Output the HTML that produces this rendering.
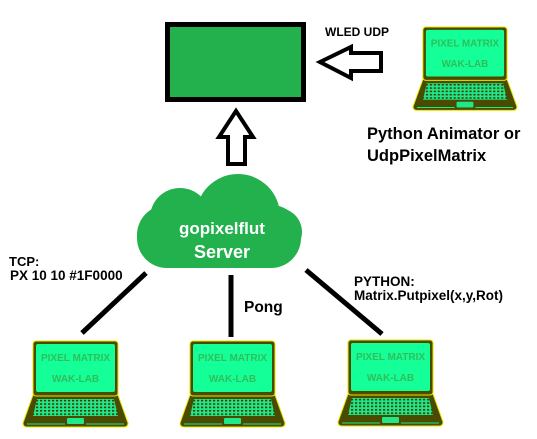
<!DOCTYPE html>
<html><head><style>
body{margin:0;background:#fff;}
svg text{font-family:"Liberation Sans",sans-serif;font-weight:bold;}
</style></head><body>
<svg width="537" height="434" viewBox="0 0 537 434" xmlns="http://www.w3.org/2000/svg">
<defs>
<pattern id="kb" width="4" height="3.4" patternUnits="userSpaceOnUse">
<rect width="4" height="3.4" fill="#1ee88a"/>
<rect x="1" y="1" width="2.2" height="1.6" fill="#3c3c00"/>
</pattern>
<g id="lap">
<path d="M10 54 L95 54 L105 82 Q105 86 101 86 L4 86 Q0 86 0 82 Z" fill="#4a4a00" stroke="#e6e600" stroke-width="1"/>
<rect x="10" y="0" width="85" height="55" rx="3" fill="#4a4a00" stroke="#e6e600" stroke-width="1"/>
<rect x="13" y="3" width="79" height="48" rx="2" fill="#14ff98"/>
<text x="52.5" y="20" font-size="10" fill="#2fbf5a" text-anchor="middle">PIXEL MATRIX</text>
<text x="52.5" y="41" font-size="10" fill="#2fbf5a" text-anchor="middle">WAK-LAB</text>
<path d="M14 58 L91 58 L95 75 L10 75 Z" fill="url(#kb)"/>
<rect x="44" y="77" width="17" height="6" rx="1" fill="#1ee88a"/>
<line x1="4" y1="83" x2="42" y2="83" stroke="#1ee88a" stroke-width="1"/>
<line x1="63" y1="83" x2="101" y2="83" stroke="#1ee88a" stroke-width="1"/>
</g>
</defs>
<rect x="167.5" y="24.5" width="136" height="75" fill="#22b14c" stroke="#000" stroke-width="5"/>
<path d="M320 62 L351 47 L351 53 L381 53 L381 71 L351 71 L351 78 Z" fill="#fff" stroke="#000" stroke-width="4"/>
<path d="M236 111 L253 137 L245 137 L245 164 L228 164 L228 137 L219 137 Z" fill="#fff" stroke="#000" stroke-width="4"/>
<g fill="#22b14c">
<rect x="137" y="205" width="164" height="63" rx="30"/>
<circle cx="180" cy="218" r="30"/>
<circle cx="238" cy="216" r="42"/>
<circle cx="278" cy="232" r="24"/>
</g>
<text x="222" y="234" font-size="17" fill="#fff" text-anchor="middle">gopixelflut</text>
<text x="222" y="258" font-size="18" fill="#fff" text-anchor="middle">Server</text>
<g stroke="#000" stroke-width="5">
<line x1="146" y1="273" x2="82" y2="333"/>
<line x1="231" y1="275" x2="231" y2="337"/>
<line x1="306" y1="270" x2="382" y2="334"/>
</g>
<text x="325" y="36" font-size="12" fill="#000">WLED UDP</text>
<text x="367" y="139" font-size="16.5" fill="#000">Python Animator or</text>
<text x="367" y="161" font-size="16.5" fill="#000">UdpPixelMatrix</text>
<text x="9" y="266" font-size="13" fill="#000">TCP:</text>
<text x="10" y="280" font-size="13.5" fill="#000">PX 10 10 #1F0000</text>
<text x="244" y="312" font-size="15.5" fill="#000">Pong</text>
<text x="354" y="286" font-size="13.5" fill="#000">PYTHON:</text>
<text x="354" y="300" font-size="13.5" fill="#000">Matrix.Putpixel(x,y,Rot)</text>
<use href="#lap" transform="translate(413,27) scale(0.99,0.97)"/>
<use href="#lap" transform="translate(23,341)"/>
<use href="#lap" transform="translate(180,341)"/>
<use href="#lap" transform="translate(338,340)"/>
</svg>
</body></html>
